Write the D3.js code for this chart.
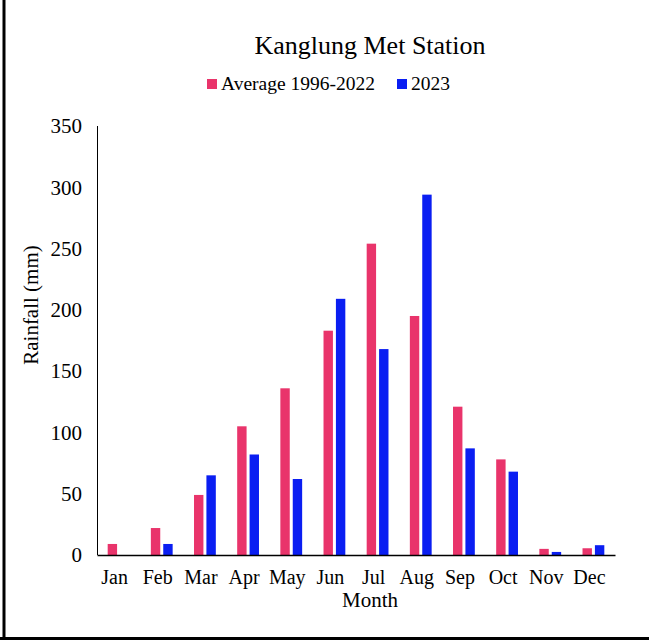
<!DOCTYPE html>
<html>
<head>
<meta charset="utf-8">
<script src="https://cdn.jsdelivr.net/npm/d3@7"></script>
<style>
  html, body { margin: 0; padding: 0; background: #fff; }
  svg { display: block; font-family: "Liberation Serif", "Times New Roman", serif; }
</style>
</head>
<body>
<svg id="chart" width="649" height="640"></svg>
<script>
// Monthly rainfall at Kanglung Met Station (mm)
const months = ["Jan", "Feb", "Mar", "Apr", "May", "Jun", "Jul", "Aug", "Sep", "Oct", "Nov", "Dec"];
const seriesNames = ["Average 1996-2022", "2023"];
const average = [9, 22, 49, 105, 136, 183, 254, 195, 121, 78, 5, 5.5];
const year2023 = [0, 9, 65, 82, 62, 209, 168, 294, 87, 68, 2.5, 8];
const yTicks = [0, 50, 100, 150, 200, 250, 300, 350];
const colors = ["#E9346B", "#0A1EF2"];

const svg = d3.select("#chart");
const W = 649, H = 640;
const margin = { left: 97, right: 34, top: 126, bottom: 85 };

// frame lines on the left and bottom edges
svg.append("line").attr("x1", 4).attr("x2", 4).attr("y1", 0).attr("y2", H)
  .attr("stroke", "#000").attr("stroke-width", 3);
svg.append("line").attr("x1", 0).attr("x2", W).attr("y1", 638.5).attr("y2", 638.5)
  .attr("stroke", "#000").attr("stroke-width", 3);

const x = d3.scaleBand().domain(months).range([margin.left, W - margin.right]).paddingInner(0).paddingOuter(0);
const y = d3.scaleLinear().domain([0, 350]).range([H - margin.bottom, margin.top]);

const barW = 9.4, gap = 3;
const rows = months.map((m, i) => ({ month: m, values: [average[i], year2023[i]] }));

const groups = svg.append("g").selectAll("g").data(rows).join("g")
  .attr("transform", d => `translate(${x(d.month) + x.bandwidth() / 2},0)`);

groups.selectAll("rect").data(d => d.values.map((v, k) => ({ v, k }))).join("rect")
  .attr("x", d => d.k === 0 ? -(barW + gap / 2) : gap / 2)
  .attr("width", barW)
  .attr("y", d => y(d.v))
  .attr("height", d => y(0) - y(d.v))
  .attr("fill", d => colors[d.k]);

// y axis: line + labels, no tick marks
const yAxis = svg.append("g").attr("transform", `translate(${margin.left},0)`)
  .call(d3.axisLeft(y).tickValues(yTicks).tickSize(0).tickPadding(15));
yAxis.select(".domain").attr("stroke", "#000").attr("stroke-width", 1)
  .attr("d", `M0.5,${y(350)}V${y(0)}`);
yAxis.selectAll("text").attr("font-size", 21).attr("font-family", "Liberation Serif").attr("fill", "#000");

// x axis
const xAxis = svg.append("g").attr("transform", `translate(0,${y(0)})`)
  .call(d3.axisBottom(x).tickSize(0).tickPadding(15));
xAxis.select(".domain").attr("stroke", "#000").attr("stroke-width", 1.6);
xAxis.selectAll("text").attr("font-size", 20).attr("font-family", "Liberation Serif")
  .attr("fill", "#000").attr("dx", -4);

// axis titles
svg.append("text").attr("x", 370).attr("y", 607)
  .attr("text-anchor", "middle").attr("font-size", 21).text("Month");
svg.append("text").attr("transform", "translate(38,305) rotate(-90)")
  .attr("text-anchor", "middle").attr("font-size", 21).text("Rainfall (mm)");

// title
svg.append("text").attr("x", 370).attr("y", 54).attr("text-anchor", "middle")
  .attr("font-size", 26).text("Kanglung Met Station");

// legend
const legend = svg.append("g");
const legendX = [207, 397];
seriesNames.forEach((name, k) => {
  legend.append("rect").attr("x", legendX[k]).attr("y", 79).attr("width", 10).attr("height", 10)
    .attr("fill", colors[k]);
  legend.append("text").attr("x", legendX[k] + 14).attr("y", 90).attr("font-size", 19.5).text(name);
});
</script>
</body>
</html>
